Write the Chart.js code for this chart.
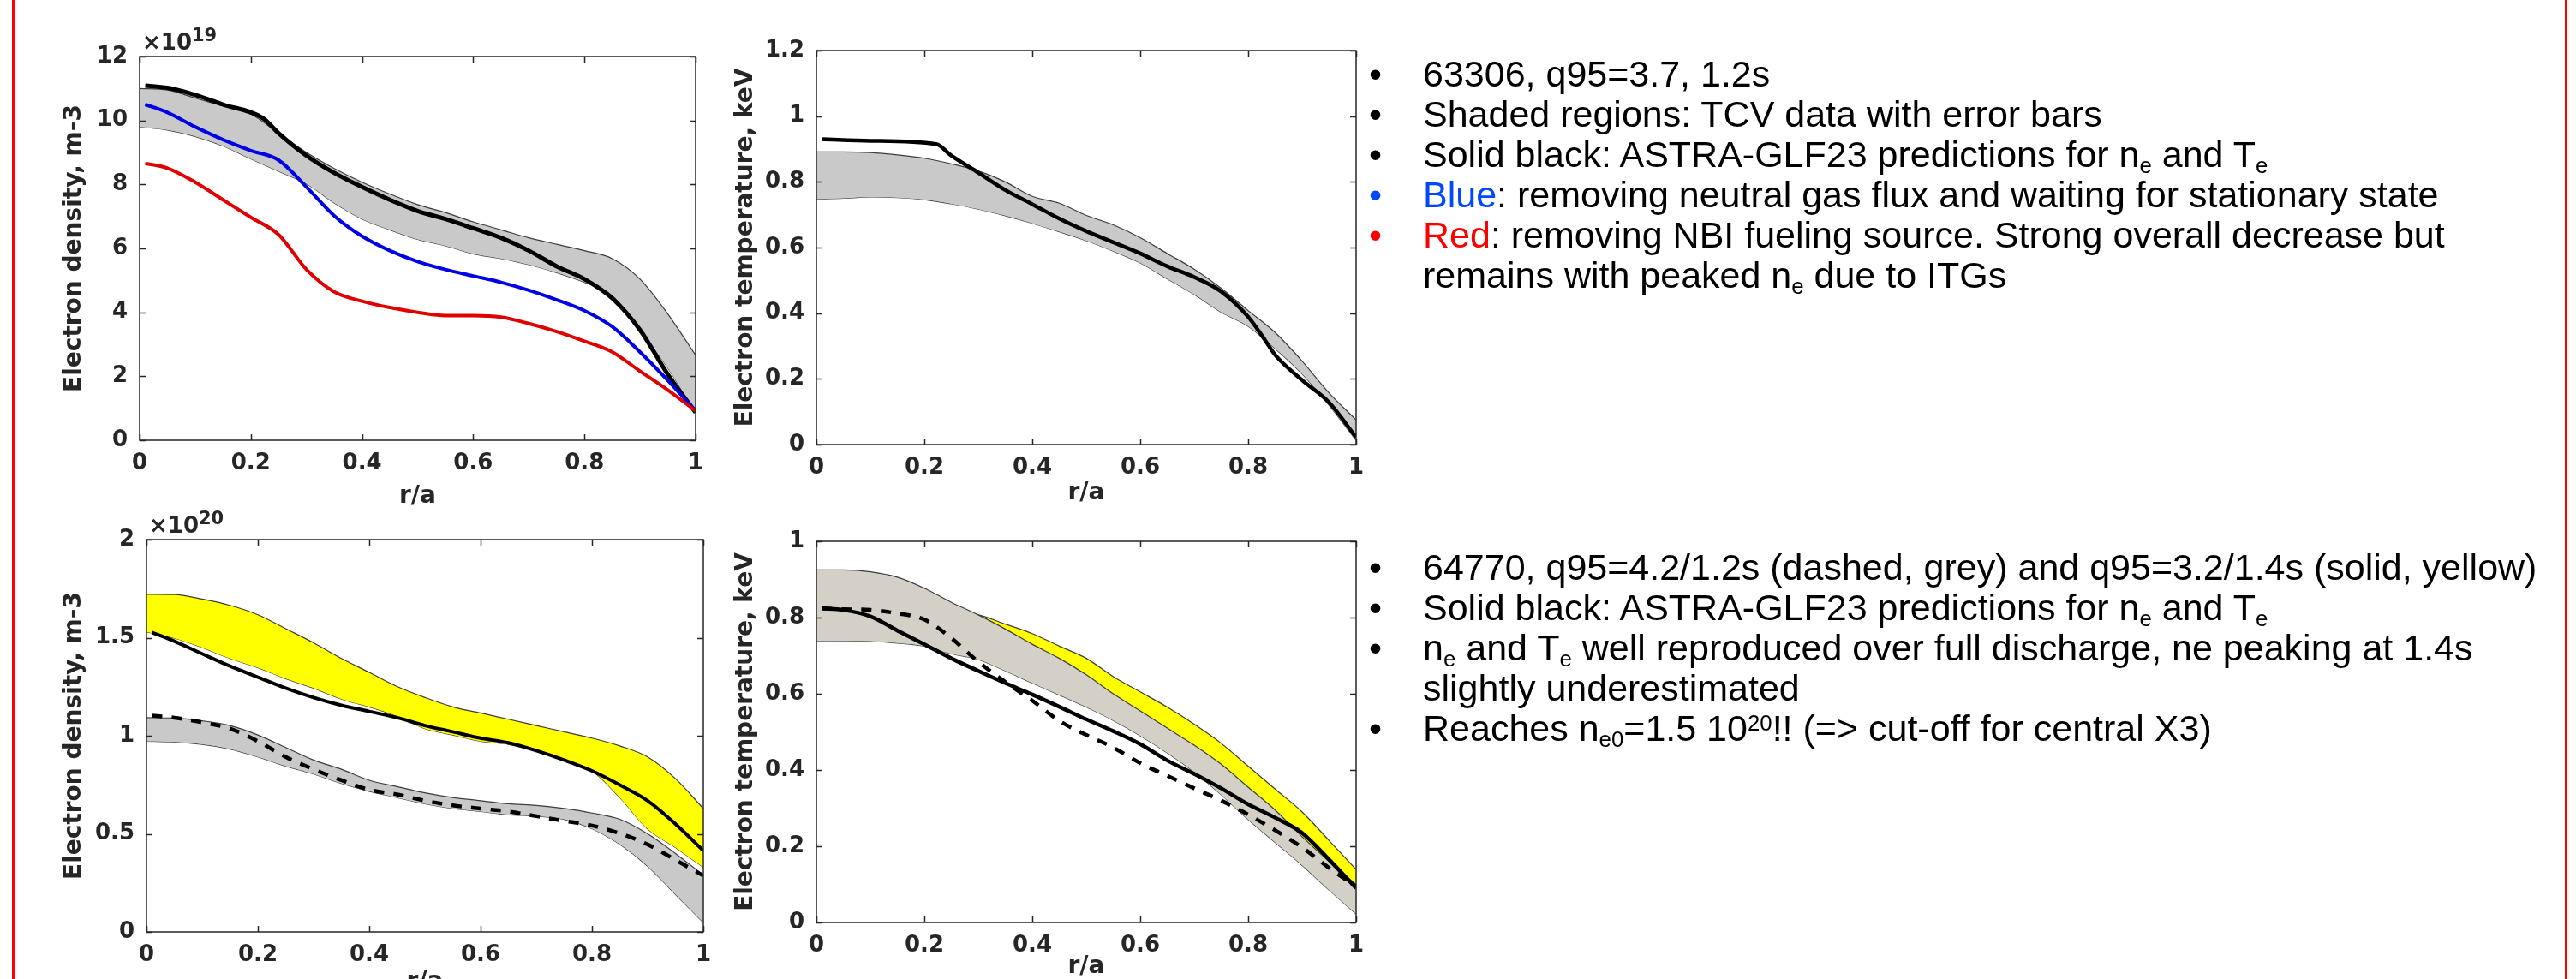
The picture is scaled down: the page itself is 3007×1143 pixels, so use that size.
<!DOCTYPE html>
<html>
<head>
<meta charset="utf-8">
<script src="https://cdn.jsdelivr.net/npm/chart.js@4.4.0/dist/chart.umd.min.js"></script>
<style>
  body { margin: 0; width: 3007px; height: 1143px; background: #fff; position: relative; overflow: hidden; }
  .frame { position: absolute; top: 0; height: 1143px; width: 3px; background: #ff0000; }
  .plot { position: absolute; }
  .exp { position: absolute; font-family: "DejaVu Sans"; font-weight: bold; font-size: 26px; line-height: 26px; color: #262626; white-space: nowrap; }
  .exp sup { font-size: 21px; vertical-align: 0.5em; line-height: 0; }
  .notes { position: absolute; left: 1590px; font-family: "Liberation Sans", Arial, sans-serif; font-size: 43px; line-height: 47px; color: #000; white-space: nowrap; }
  .notes div { position: relative; padding-left: 71px; }
  .notes .dot { position: absolute; left: 8px; }
  .notes sub { font-size: 0.6em; vertical-align: -0.28em; line-height: 0; }
  .notes sup { font-size: 0.6em; vertical-align: 0.45em; line-height: 0; }
  .blue { color: #0047ff; }
  .red { color: #ff0000; }
</style>
</head>
<body>
<div class="frame" style="left:14px"></div>
<div class="frame" style="left:2994px"></div>

<canvas id="neA" class="plot"></canvas>
<canvas id="teA" class="plot"></canvas>
<canvas id="neB" class="plot"></canvas>
<canvas id="teB" class="plot"></canvas>

<div class="exp" style="left:166px;top:36px">&times;10<sup>19</sup></div>
<div class="exp" style="left:174px;top:600px">&times;10<sup>20</sup></div>

<div class="notes" style="top:63px">
  <div><span class="dot">&bull;</span>63306, q95=3.7, 1.2s</div>
  <div><span class="dot">&bull;</span>Shaded regions: TCV data with error bars</div>
  <div><span class="dot">&bull;</span>Solid black: ASTRA-GLF23 predictions for n<sub>e</sub> and T<sub>e</sub></div>
  <div><span class="dot blue">&bull;</span><span class="blue">Blue</span>: removing neutral gas flux and waiting for stationary state</div>
  <div><span class="dot red">&bull;</span><span class="red">Red</span>: removing NBI fueling source. Strong overall decrease but<br>remains with peaked n<sub>e</sub> due to ITGs</div>
</div>

<div class="notes" style="top:639px">
  <div><span class="dot">&bull;</span>64770, q95=4.2/1.2s (dashed, grey) and q95=3.2/1.4s (solid, yellow)</div>
  <div><span class="dot">&bull;</span>Solid black: ASTRA-GLF23 predictions for n<sub>e</sub> and T<sub>e</sub></div>
  <div><span class="dot">&bull;</span>n<sub>e</sub> and T<sub>e</sub> well reproduced over full discharge, ne peaking at 1.4s<br>slightly underestimated</div>
  <div><span class="dot">&bull;</span>Reaches n<sub>e0</sub>=1.5 10<sup>20</sup>!! (=&gt; cut-off for central X3)</div>
</div>

<script>
// ---- data ----
const rhoTicks = [0, 0.2, 0.4, 0.6, 0.8, 1];
const rhoData  = [0, 0.05, 0.1, 0.15, 0.2, 0.25, 0.3, 0.35, 0.4, 0.45, 0.5, 0.55, 0.6, 0.65, 0.7, 0.75, 0.8, 0.85, 0.9, 0.95, 1];
const rhoModel = [0.01, 0.05, 0.1, 0.15, 0.2, 0.25, 0.3, 0.35, 0.4, 0.45, 0.5, 0.55, 0.6, 0.65, 0.7, 0.75, 0.8, 0.85, 0.9, 0.95, 1];

// 63306, density (1e19 m-3)
const neTicksA = [0, 2, 4, 6, 8, 10, 12];
const neUpA    = [11.0, 10.95, 10.7, 10.45, 10.2, 9.6, 9.0, 8.5, 8.07, 7.7, 7.37, 7.12, 6.83, 6.58, 6.33, 6.13, 5.93, 5.68, 5.04, 3.95, 2.66];
const neLoA    = [9.8, 9.7, 9.5, 9.2, 8.8, 8.41, 8.02, 7.42, 6.92, 6.58, 6.28, 6.08, 5.83, 5.68, 5.49, 5.24, 4.94, 4.54, 3.45, 2.26, 0.87];
const rhoBlackA = [0.01, 0.05, 0.1, 0.15, 0.222, 0.25, 0.3, 0.35, 0.4, 0.45, 0.5, 0.55, 0.6, 0.65, 0.7, 0.75, 0.8, 0.85, 0.9, 0.95, 1];
const neBlackA = [11.09, 11.02, 10.8, 10.5, 10.07, 9.6, 8.9, 8.36, 7.92, 7.52, 7.17, 6.92, 6.63, 6.33, 5.93, 5.44, 5.04, 4.44, 3.45, 2.06, 0.87];
const neBlueA  = [10.5, 10.25, 9.8, 9.4, 9.06, 8.76, 7.92, 7.02, 6.38, 5.93, 5.59, 5.34, 5.14, 4.94, 4.69, 4.39, 4.05, 3.55, 2.76, 1.87, 0.92];
const neRedA   = [8.66, 8.51, 8.07, 7.52, 6.97, 6.43, 5.34, 4.64, 4.35, 4.15, 4.0, 3.9, 3.9, 3.85, 3.65, 3.4, 3.1, 2.76, 2.16, 1.57, 0.92];

// 63306, temperature (keV)
const teTicksA = [0, 0.2, 0.4, 0.6, 0.8, 1, 1.2];
const teUpA    = [0.891, 0.891, 0.889, 0.882, 0.872, 0.855, 0.833, 0.80, 0.756, 0.735, 0.698, 0.669, 0.63, 0.582, 0.534, 0.476, 0.408, 0.341, 0.254, 0.157, 0.075];
const teLoA    = [0.748, 0.750, 0.754, 0.752, 0.746, 0.733, 0.717, 0.697, 0.674, 0.648, 0.621, 0.589, 0.553, 0.505, 0.457, 0.403, 0.36, 0.292, 0.215, 0.119, 0.013];
const rhoBlackTeA = [0.01, 0.1, 0.222, 0.25, 0.3, 0.35, 0.4, 0.45, 0.5, 0.55, 0.6, 0.65, 0.7, 0.75, 0.8, 0.83, 0.85, 0.9, 0.95, 1];
const teBlackA = [0.93, 0.925, 0.915, 0.88, 0.828, 0.775, 0.732, 0.688, 0.65, 0.616, 0.582, 0.543, 0.51, 0.466, 0.389, 0.321, 0.273, 0.196, 0.128, 0.022];

// 64770, density (1e20 m-3)
const neTicksB = [0, 0.5, 1, 1.5, 2];
const neYelUpB = [1.721, 1.72, 1.697, 1.665, 1.617, 1.546, 1.474, 1.394, 1.323, 1.251, 1.195, 1.147, 1.116, 1.084, 1.052, 1.02, 0.988, 0.948, 0.892, 0.781, 0.629];
const neYelLoB = [1.53, 1.498, 1.45, 1.394, 1.347, 1.291, 1.243, 1.187, 1.147, 1.1, 1.036, 1.004, 0.972, 0.956, 0.924, 0.876, 0.821, 0.685, 0.525, 0.43, 0.33];
const neGryUpB = [1.092, 1.09, 1.076, 1.052, 1.004, 0.94, 0.876, 0.829, 0.773, 0.741, 0.709, 0.685, 0.669, 0.653, 0.645, 0.629, 0.606, 0.574, 0.5, 0.40, 0.29];
const neGryLoB = [0.972, 0.968, 0.956, 0.932, 0.892, 0.845, 0.805, 0.757, 0.717, 0.685, 0.653, 0.629, 0.614, 0.598, 0.59, 0.574, 0.526, 0.446, 0.335, 0.191, 0.048];
const neSolidB = [1.527, 1.482, 1.418, 1.355, 1.299, 1.243, 1.195, 1.155, 1.124, 1.092, 1.052, 1.02, 0.988, 0.964, 0.924, 0.876, 0.821, 0.749, 0.669, 0.55, 0.414];
const neDashB  = [1.103, 1.092, 1.068, 1.036, 0.972, 0.892, 0.829, 0.773, 0.725, 0.701, 0.669, 0.645, 0.629, 0.614, 0.59, 0.566, 0.542, 0.502, 0.446, 0.367, 0.287];

// 64770, temperature (keV)
const teTicksB = [0, 0.2, 0.4, 0.6, 0.8, 1];
const teYelUpB = [0.86, 0.86, 0.855, 0.845, 0.83, 0.815, 0.807, 0.783, 0.758, 0.725, 0.693, 0.645, 0.605, 0.565, 0.52, 0.47, 0.41, 0.35, 0.29, 0.215, 0.139];
const teYelLoB = [0.80, 0.80, 0.795, 0.785, 0.77, 0.75, 0.73, 0.70, 0.67, 0.64, 0.61, 0.575, 0.535, 0.49, 0.445, 0.395, 0.335, 0.275, 0.21, 0.15, 0.095];
const teGryUpB = [0.925, 0.925, 0.92, 0.906, 0.877, 0.84, 0.807, 0.77, 0.73, 0.693, 0.65, 0.60, 0.555, 0.51, 0.465, 0.415, 0.355, 0.295, 0.225, 0.16, 0.10];
const teGryLoB = [0.739, 0.739, 0.738, 0.733, 0.725, 0.705, 0.69, 0.66, 0.628, 0.597, 0.565, 0.53, 0.49, 0.445, 0.395, 0.335, 0.27, 0.21, 0.15, 0.085, 0.022];
const teSolidB = [0.824, 0.82, 0.803, 0.766, 0.73, 0.693, 0.66, 0.628, 0.598, 0.566, 0.533, 0.502, 0.468, 0.425, 0.39, 0.352, 0.31, 0.275, 0.235, 0.165, 0.09];
const teDashB  = [0.824, 0.822, 0.82, 0.811, 0.795, 0.746, 0.684, 0.631, 0.582, 0.529, 0.492, 0.459, 0.418, 0.385, 0.352, 0.32, 0.283, 0.242, 0.197, 0.143, 0.094];

// ---- drawing ----
const axisColor = '#262626';
const tickFont = { family: 'DejaVu Sans', weight: 'bold', size: 26 };
const titleFont = { family: 'DejaVu Sans', weight: 'bold', size: 28 };

function pts(xs, ys) {
  return ys.map((y, i) => ({ x: xs[i], y: y }));
}

// band edges: thin dark line, fill to next dataset
function band(xs, up, lo, color, order) {
  return [
    { data: pts(xs, up), borderColor: '#3c3c3c', borderWidth: 1.2, backgroundColor: color, fill: '+1', order: order },
    { data: pts(xs, lo), borderColor: '#3c3c3c', borderWidth: 1.2, fill: false, order: order }
  ];
}

function curve(xs, ys, color, width, dash) {
  return { data: pts(xs, ys), borderColor: color, borderWidth: width, borderDash: dash || [], fill: false, order: 0 };
}

// matlab-like box with ticks pointing inwards
const matlabBox = {
  id: 'matlabBox',
  afterDatasetsDraw(chart) {
    const { ctx, chartArea: a, scales: { x, y } } = chart;
    ctx.save();
    ctx.strokeStyle = axisColor;
    ctx.lineWidth = 1.5;
    ctx.beginPath();
    x.ticks.forEach(t => {
      const px = Math.round(x.getPixelForValue(t.value)) + 0.5;
      ctx.moveTo(px, a.bottom); ctx.lineTo(px, a.bottom - 7);
      ctx.moveTo(px, a.top); ctx.lineTo(px, a.top + 7);
    });
    y.ticks.forEach(t => {
      const py = Math.round(y.getPixelForValue(t.value)) + 0.5;
      ctx.moveTo(a.left, py); ctx.lineTo(a.left + 7, py);
      ctx.moveTo(a.right, py); ctx.lineTo(a.right - 7, py);
    });
    ctx.stroke();
    ctx.strokeRect(a.left, a.top, a.width, a.height);
    ctx.restore();
  }
};

function makePlot(id, box, yTicks, yMax, yTitle, datasets) {
  const yw = 130, xh = 90, padTop = 50, padRight = 30;
  const cv = document.getElementById(id);
  cv.width = box.r - box.l + yw + padRight;
  cv.height = box.b - box.t + xh + padTop;
  cv.style.left = (box.l - yw) + 'px';
  cv.style.top = (box.t - padTop) + 'px';
  new Chart(cv.getContext('2d'), {
    type: 'line',
    data: { datasets: datasets },
    options: {
      responsive: false,
      animation: false,
      events: [],
      layout: { padding: { top: padTop, right: padRight, left: 0, bottom: 0 } },
      elements: { point: { radius: 0 }, line: { cubicInterpolationMode: 'monotone' } },
      plugins: { legend: { display: false }, tooltip: { enabled: false } },
      scales: {
        x: {
          type: 'linear', min: 0, max: 1,
          afterBuildTicks: s => { s.ticks = rhoTicks.map(v => ({ value: v })); },
          afterFit: s => { s.height = xh; },
          grid: { display: false, drawTicks: false },
          border: { display: false },
          ticks: { callback: v => String(v), font: tickFont, color: axisColor, padding: 12, maxRotation: 0 },
          title: { display: true, text: 'r/a', font: titleFont, color: axisColor, padding: { top: 0, bottom: box.xtPad } }
        },
        y: {
          type: 'linear', min: 0, max: yMax,
          afterBuildTicks: s => { s.ticks = yTicks.map(v => ({ value: v })); },
          afterFit: s => { s.width = yw; },
          grid: { display: false, drawTicks: false },
          border: { display: false },
          ticks: { callback: v => String(v), font: tickFont, color: axisColor, padding: 14 },
          title: { display: true, text: yTitle, font: titleFont, color: axisColor, padding: { top: box.ytPad, bottom: 0 } }
        }
      }
    },
    plugins: [matlabBox]
  });
}

const greyBand = '#c9c9c9';
const warmGrey = '#d4d0c8';
const yellow = '#ffff00';

makePlot('neA', { l: 163, t: 66, r: 812, b: 514, ytPad: 37, xtPad: 7 }, neTicksA, 12, 'Electron density, m-3', [
  ...band(rhoData, neUpA, neLoA, greyBand, 3),
  curve(rhoModel, neRedA, '#e00000', 4),
  curve(rhoModel, neBlueA, '#0000e6', 4),
  curve(rhoBlackA, neBlackA, '#000000', 5)
]);

makePlot('teA', { l: 953, t: 59, r: 1583, b: 519, ytPad: 31, xtPad: 16 }, teTicksA, 1.2, 'Electron temperature, keV', [
  ...band(rhoData, teUpA, teLoA, greyBand, 3),
  curve(rhoBlackTeA, teBlackA, '#000000', 4.5)
]);

makePlot('neB', { l: 171, t: 630, r: 821, b: 1088, ytPad: 29, xtPad: 14 }, neTicksB, 2, 'Electron density, m-3', [
  ...band(rhoData, neYelUpB, neYelLoB, yellow, 4),
  ...band(rhoData, neGryUpB, neGryLoB, greyBand, 3),
  curve(rhoModel, neDashB, '#000000', 4.5, [12, 11]),
  curve(rhoModel, neSolidB, '#000000', 4)
]);

makePlot('teB', { l: 953, t: 632, r: 1583, b: 1077, ytPad: 31, xtPad: 21 }, teTicksB, 1, 'Electron temperature, keV', [
  ...band(rhoData, teYelUpB, teYelLoB, yellow, 4),
  ...band(rhoData, teGryUpB, teGryLoB, warmGrey, 3),
  curve(rhoModel, teDashB, '#000000', 4.5, [12, 11]),
  curve(rhoModel, teSolidB, '#000000', 4.5)
]);
</script>
</body>
</html>
